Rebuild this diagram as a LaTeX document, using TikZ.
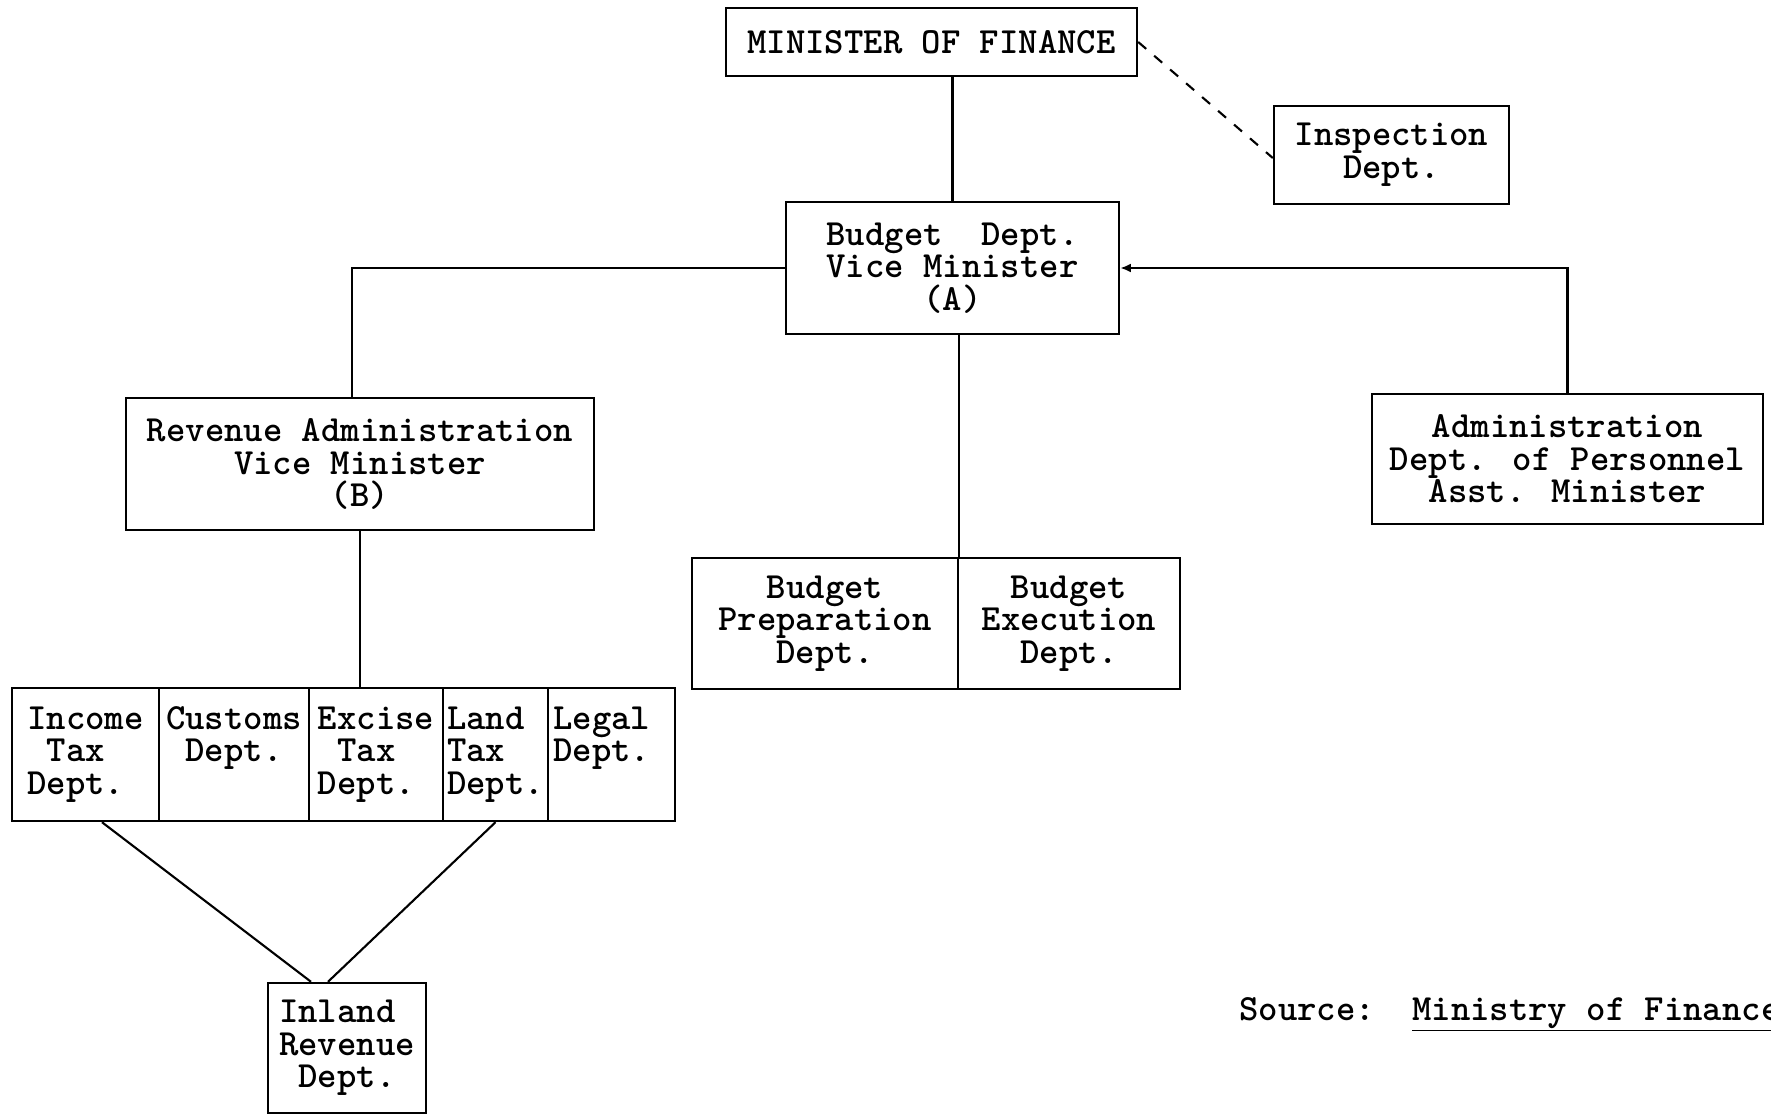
\documentclass[tikz,border=0pt]{standalone}
\usepackage{fontspec}
\usetikzlibrary{calc,arrows.meta}
\begin{document}
\begin{tikzpicture}[x=0.02cm,y=0.02cm,
  txt/.style={font=\ttfamily\bfseries\fontsize{21}{18.55}\selectfont},
  box/.style={txt, draw, line width=1.4pt, inner sep=0pt, align=center},
  lbox/.style={box, align=left},
  conn/.style={line width=1.2pt}]
\fill[white] (0,0) rectangle (1771,-1115);
\path[use as bounding box] (0,0) rectangle (1771,-1115);
\clip (0,0) rectangle (1771,-1115);

\node[box, minimum width=8.22cm, minimum height=1.36cm] (mof) at (931.5,-42) {MINISTER OF FINANCE};
\node[box, minimum width=4.70cm, minimum height=1.96cm] (insp) at (1391.5,-155) {Inspection\\Dept.};
\node[box, minimum width=6.66cm, minimum height=2.64cm] (budA) at (952.5,-268) {Budget\phantom{x} Dept.\\Vice Minister\\(A)};
\node[box, minimum width=9.36cm, minimum height=2.64cm] (rev) at (360,-464) {Revenue Administration\\Vice Minister\\(B)};
\node[box, minimum width=7.82cm, minimum height=2.60cm] (admin) at (1567.5,-459) {Administration\\Dept. of Personnel\\Asst. Minister};
\node[box, minimum width=5.32cm, minimum height=2.62cm] (bprep) at (825,-623.5) {Budget\\Preparation\\Dept.};
\node[box, minimum width=4.44cm, minimum height=2.62cm] (bexec) at (1069,-623.5) {Budget\\Execution\\Dept.};

\node[lbox, minimum width=2.94cm, minimum height=2.66cm] (income) at (85.5,-754.5) {Income\\\phantom{x}Tax\\Dept.};
\node[lbox, minimum width=3.00cm, minimum height=2.66cm] (customs) at (234,-754.5) {Customs\\\phantom{x}Dept.\\\phantom{Dept.}};
\node[lbox, minimum width=2.68cm, minimum height=2.66cm] (excise) at (376,-754.5) {Excise\\\phantom{x}Tax\\Dept.};
\node[lbox, minimum width=2.10cm, minimum height=2.66cm] (land) at (495.5,-754.5) {Land\\Tax\\Dept.};
\node[lbox, minimum width=2.54cm, minimum height=2.66cm] (legal) at (611.5,-754.5) {Legal\phantom{x}\\Dept.\\\phantom{Dept.}};

\node[lbox, minimum width=3.16cm, minimum height=2.60cm] (inland) at (347,-1048) {Inland\\Revenue\\\phantom{x}Dept.};

\node[txt, anchor=base west, inner sep=0pt] (src) at (1239,-1020) {Source:};
\node[txt, anchor=base west, inner sep=0pt] (minis) at (1412,-1020) {\underline{Ministry of Finance}};

\draw[conn] (mof.south -| budA.north) -- (budA.north);
\draw[conn, dash pattern=on 6pt off 6pt] (mof.east) -- ($(insp.west)+(0,-3)$);
\draw[conn] (budA.west) -| ($(rev.north)+(-8,0)$);
\draw[conn, {Latex[length=6pt,width=5pt]}-] (budA.east) -| (admin.north);
\draw[conn] (budA.south -| bprep.north east) -- (bprep.north east);
\draw[conn] (rev.south) -- (rev.south |- excise.north);
\draw[conn] ($(income.south)+(16.5,0)$) -- ($(inland.north)+(-36,0)$);
\draw[conn] (land.south) -- ($(inland.north)+(-19,0)$);
\end{tikzpicture}
\end{document}
